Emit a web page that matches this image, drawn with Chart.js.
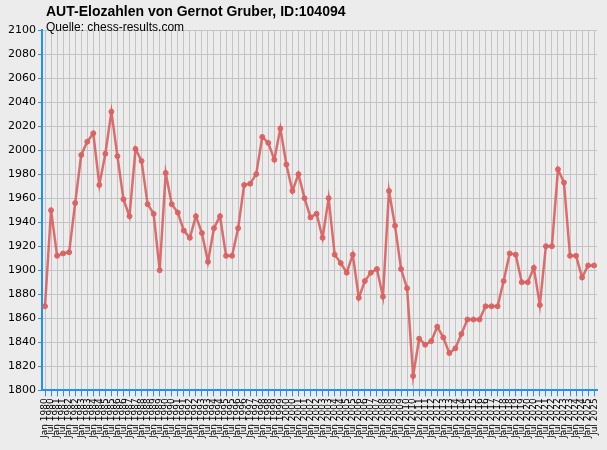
<!DOCTYPE html>
<html>
<head>
<meta charset="utf-8">
<script src="https://cdn.jsdelivr.net/npm/chart.js@4/dist/chart.umd.min.js"></script>
<style>
  html, body { margin: 0; padding: 0; background: #ececec; }
  #wrap { position: relative; width: 607px; height: 450px; }
  #title { position: absolute; left: 46px; top: 3px; font: bold 14px "Liberation Sans", Arial, sans-serif; color: #000; }
  #sub { position: absolute; left: 46px; top: 20px; font: 12px "Liberation Sans", Arial, sans-serif; color: #000; }
</style>
</head>
<body>
<div id="wrap">
  <canvas id="eloChart" width="607" height="450"></canvas>
  <div id="title">AUT-Elozahlen von Gernot Gruber, ID:104094</div>
  <div id="sub">Quelle: chess-results.com</div>
</div>
<script>
// half-yearly rating lists, Jan 1980 .. Jul 2025
var labels = [];
for (var y = 1980; y <= 2025; y++) { labels.push("Jan " + y); labels.push("Jul " + y); }

var elo = [
  1870, 1950, 1912, 1914, 1915, 1956, 1996, 2007, 2014, 1971,
  1997, 2032, 1995, 1959, 1945, 2001, 1991, 1955, 1947, 1900,
  1981, 1955, 1948, 1933, 1927, 1945, 1931, 1907, 1935, 1945,
  1912, 1912, 1935, 1971, 1972, 1980, 2011, 2006, 1992, 2018,
  1988, 1966, 1980, 1960, 1944, 1947, 1927, 1960, 1913, 1906,
  1898, 1913, 1877, 1891, 1898, 1901, 1878, 1966, 1937, 1901,
  1885, 1812, 1843, 1838, 1841, 1853, 1844, 1831, 1835, 1847,
  1859, 1859, 1859, 1870, 1870, 1870, 1891, 1914, 1913, 1890,
  1890, 1902, 1871, 1920, 1920, 1984, 1973, 1912, 1912, 1894,
  1904, 1904
];

var yMin = 1800, yMax = 2100, yStep = 20;

new Chart(document.getElementById("eloChart"), {
  type: "line",
  data: {
    labels: labels,
    datasets: [{
      label: "Elo",
      data: elo,
      borderColor: "rgba(220,95,95,0.9)",
      backgroundColor: "rgba(220,95,95,0.9)",
      borderWidth: 2.5,
      pointRadius: 2.5,
      pointBorderWidth: 1,
      tension: 0,
      fill: false
    }]
  },
  options: {
    responsive: false,
    animation: false,
    layout: { padding: { left: 6, right: 7, top: 30, bottom: 10 } },
    scales: {
      x: {
        offset: true,
        grid: { offset: false, color: "#c4c4c4", tickColor: "#1e90ff", tickLength: 6 },
        border: { color: "#1e90ff", width: 2 },
        ticks: {
          autoSkip: false, maxRotation: 90, minRotation: 90,
          color: "#000", font: { family: "DejaVu Sans", size: 9 }, padding: 2
        }
      },
      y: {
        min: yMin, max: yMax,
        grid: { color: "#c4c4c4", tickColor: "#1e90ff", tickLength: 4 },
        border: { color: "#1e90ff", width: 2 },
        ticks: {
          stepSize: yStep, color: "#000", padding: 2,
          font: { family: "DejaVu Sans", size: 11 },
          callback: function(v) { return String(v); }
        }
      }
    },
    plugins: {
      legend: { display: false },
      tooltip: { enabled: false }
    }
  }
});
</script>
</body>
</html>
